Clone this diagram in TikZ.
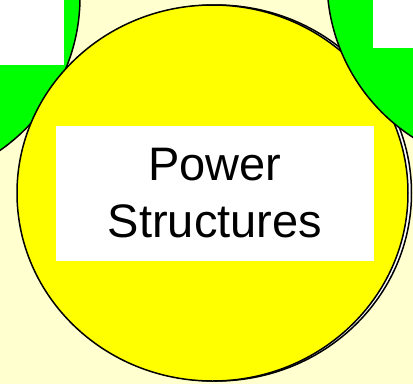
\documentclass[tikz,border=0pt]{standalone}
\usepackage{fontspec}
\setmainfont{Liberation Sans}
\usetikzlibrary{shapes.geometric}
\definecolor{paper}{RGB}{255,255,208}
\definecolor{bubyellow}{RGB}{255,255,0}
\definecolor{bubgreen}{RGB}{0,255,0}

\begin{document}
\begin{tikzpicture}[x=1pt, y=-1pt,
	bub/.style={draw, line width=1.5pt, inner sep=0pt},
	lbl/.style={rectangle, fill=white, inner sep=0pt}]
\useasboundingbox[fill=paper] (0,0) rectangle (413,384);
\node[bub, circle, fill=bubgreen, minimum size=374pt] (left) at (-107,-3) {};
\node[lbl, minimum width=200pt, minimum height=130pt] (leftlbl) at (-36,0) {};
\node[bub, ellipse, fill=white, minimum width=391pt, minimum height=376pt] (back) at (216,193) {};
\node[bub, ellipse, fill=bubyellow, minimum width=391pt, minimum height=376pt] (power) at (212.5,193) {};
\node[lbl, minimum width=318pt, minimum height=135pt, align=center,
	font=\fontsize{47}{57}\selectfont] (powerlbl) at (215,193.5) {Power\\Structures};
\node[bub, circle, fill=bubgreen, minimum size=374pt] (right) at (514,-20) {};
\node[lbl, minimum width=80pt, minimum height=96pt] (rightlbl) at (413,0) {};
\end{tikzpicture}
\end{document}
